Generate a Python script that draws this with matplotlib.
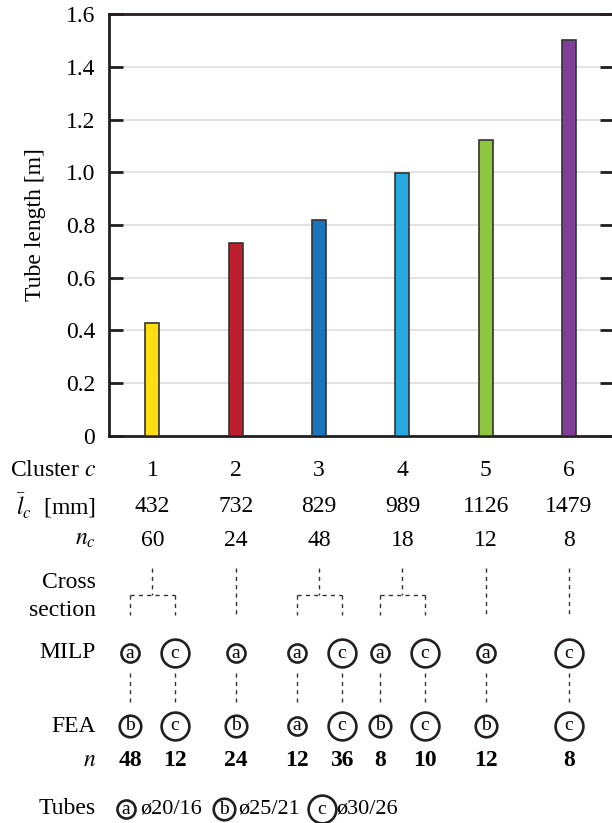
import matplotlib
matplotlib.use("Agg")
import matplotlib.pyplot as plt
import matplotlib.transforms as mtransforms

plt.rcParams['font.family'] = ['Liberation Serif', 'DejaVu Serif']
plt.rcParams['mathtext.fontset'] = 'stix'

# data
clusters = [1, 2, 3, 4, 5, 6]
tube_len = [0.43, 0.733, 0.818, 0.996, 1.123, 1.50]
mean_len = [432, 732, 829, 989, 1126, 1479]
n_c = [60, 24, 48, 18, 12, 8]
milp = [['a', 'c'], ['a'], ['a', 'c'], ['a', 'c'], ['a'], ['c']]
fea = [['b', 'c'], ['b'], ['a', 'c'], ['b', 'c'], ['b'], ['c']]
n_tubes = [[48, 12], [24], [12, 36], [8, 10], [12], [8]]
tube_types = ['a', 'b', 'c']
tube_names = ['ø20/16', 'ø25/21', 'ø30/26']
bar_colors = ['#FFDD15', '#BE1E2D', '#1C75BC', '#27AAE1', '#8DC63F', '#7F3F98']

W, H = 612, 823
fig = plt.figure(figsize=(W / 100, H / 100), dpi=100)
ax = fig.add_axes([109 / W, 1 - 436 / H, (614 - 109) / W, 422 / H])

fs = 17
ax.bar(clusters, tube_len, width=0.168, color=bar_colors, edgecolor='#333333',
       linewidth=1.2, zorder=3)
ax.set_xlim(0.478, 6.54)
ax.set_ylim(0, 1.6)
yt = [0, 0.2, 0.4, 0.6, 0.8, 1.0, 1.2, 1.4, 1.6]
ax.set_yticks(yt)
ax.set_yticklabels(['0'] + ['%.1f' % v for v in yt[1:]])
ax.set_xticks([])
ax.grid(axis='y', color='#e0e0e0', linewidth=1.3, zorder=0)
ax.tick_params(axis='y', direction='in', length=10, width=2, pad=10,
               labelsize=fs, right=True, color='#231f20')
for s in ax.spines.values():
    s.set_linewidth(2)
    s.set_color('#231f20')
ax.set_ylabel('Tube length [m]', fontsize=fs)
ax.yaxis.set_label_coords((46 - 109) / 505, 0.5)

# table below the axes: x in data units, y in figure pixels from the top
tr = mtransforms.blended_transform_factory(ax.transData, fig.transFigure)

def fy(px):
    return 1 - px / H

lab_x = 96 / W
fig.text(lab_x, fy(470), 'Cluster $c$', ha='right', va='center', fontsize=fs)
fig.text(lab_x, fy(506), r'$\bar{l}_c$  [mm]', ha='right', va='center', fontsize=fs)
fig.text(lab_x, fy(540), r'$n_c$', ha='right', va='center', fontsize=fs)
fig.text(lab_x, fy(582), 'Cross', ha='right', va='center', fontsize=fs)
fig.text(lab_x, fy(610), 'section', ha='right', va='center', fontsize=fs)
fig.text(lab_x, fy(653), 'MILP', ha='right', va='center', fontsize=fs)
fig.text(lab_x, fy(726), 'FEA', ha='right', va='center', fontsize=fs)
fig.text(lab_x, fy(761), '$n$', ha='right', va='center', fontsize=fs)
fig.text(lab_x, fy(809), 'Tubes', ha='right', va='center', fontsize=fs)

ms = {'a': 13, 'b': 15.5, 'c': 20}
dash = dict(color='#333333', linewidth=1, linestyle=(0, (3, 3)), transform=tr,
            clip_on=False)

def tube(x, y, t, trans):
    ax.plot([x], [y], 'o', ms=ms[t], mfc='white', mec='#231f20', mew=1.9,
            transform=trans, clip_on=False, zorder=5)
    ax.text(x, y, t, ha='center', va='center', fontsize=14, transform=trans,
            zorder=6)

split = 0.27
for c, L, nc, m, f, nt in zip(clusters, mean_len, n_c, milp, fea, n_tubes):
    ax.text(c, fy(470), str(c), ha='center', va='center', fontsize=fs, transform=tr)
    ax.text(c, fy(506), str(L), ha='center', va='center', fontsize=fs, transform=tr)
    ax.text(c, fy(540), str(nc), ha='center', va='center', fontsize=fs, transform=tr)
    if len(m) == 1:
        xs = [c]
        ax.plot([c, c], [fy(568), fy(615)], **dash)
    else:
        xs = [c - split, c + split]
        ax.plot([c, c], [fy(568), fy(595)], **dash)
        ax.plot(xs, [fy(595), fy(595)], **dash)
        for x in xs:
            ax.plot([x, x], [fy(595), fy(615)], **dash)
    for x, tm, tf, n in zip(xs, m, f, nt):
        tube(x, fy(653), tm, tr)
        ax.plot([x, x], [fy(673), fy(702)], **dash)
        tube(x, fy(726), tf, tr)
        ax.text(x, fy(761), str(n), ha='center', va='center', fontsize=fs,
                fontweight='bold', transform=tr)

# legend of tube types
leg_x = [126, 224, 322]
for px, t, name in zip(leg_x, tube_types, tube_names):
    tube(px / W, fy(809), t, fig.transFigure)
    fig.text((px + 14) / W, fy(809), name, ha='left', va='center', fontsize=16)

fig.savefig('out.png', dpi=100)
